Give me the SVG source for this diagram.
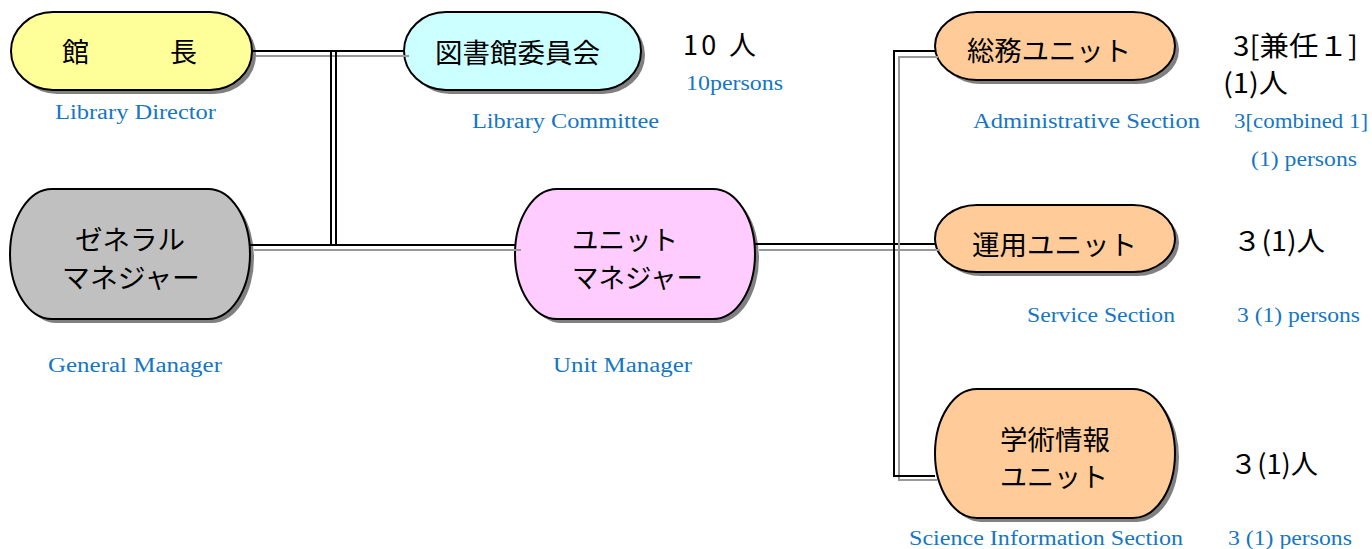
<svg xmlns="http://www.w3.org/2000/svg" width="1372" height="549" viewBox="0 0 1372 549">
<style>
.sh{fill:#808080;stroke:none}
.nd{stroke:#000;stroke-width:2}
.jp{font-family:"Noto Sans CJK JP","Noto Sans",sans-serif;font-size:27px;fill:#000;dominant-baseline:central}
.en{font-family:"Liberation Serif",serif;font-size:20px;fill:#1576C4}
.bk{stroke:#000;stroke-width:2;fill:none}
.gy{stroke:#999;stroke-width:2;fill:none}
</style>
<rect width="1372" height="549" fill="#fff"/>
<g id="node-kancho">
<rect class="sh" x="15" y="16" width="241" height="78" rx="42" ry="39"/>
<rect class="nd" x="11" y="12" width="241" height="78" rx="42" ry="39" fill="#FFFF99"/>
<text class="jp" x="62" y="50">館　　　長</text>
<text class="en" x="55" y="119" textLength="161" lengthAdjust="spacingAndGlyphs">Library Director</text>
</g>
<g id="node-iinkai">
<rect class="sh" x="408" y="16" width="237" height="78" rx="42" ry="39"/>
<rect class="nd" x="404" y="12" width="237" height="78" rx="42" ry="39" fill="#CCFFFF"/>
<text class="jp" x="435" y="51" textLength="165" lengthAdjust="spacingAndGlyphs">図書館委員会</text>
<text class="jp" x="683" y="43" textLength="73" lengthAdjust="spacing">10 人</text>
<text class="en" x="686" y="90" textLength="97" lengthAdjust="spacingAndGlyphs">10persons</text>
<text class="en" x="472" y="128" textLength="187" lengthAdjust="spacingAndGlyphs">Library Committee</text>
</g>
<g id="node-somu">
<rect class="sh" x="939" y="16" width="240" height="68" rx="42" ry="34"/>
<rect class="nd" x="935" y="12" width="240" height="68" rx="42" ry="34" fill="#FFCC99"/>
<text class="jp" x="967" y="49" textLength="164" lengthAdjust="spacingAndGlyphs">総務ユニット</text>
<text class="jp" x="1233" y="44" textLength="125" lengthAdjust="spacingAndGlyphs">3[兼任１]</text>
<text class="jp" x="1223" y="81" textLength="65" lengthAdjust="spacingAndGlyphs">(1)人</text>
<text class="en" x="973" y="128" textLength="227" lengthAdjust="spacingAndGlyphs">Administrative Section</text>
<text class="en" x="1234" y="128" textLength="134" lengthAdjust="spacingAndGlyphs">3[combined 1]</text>
<text class="en" x="1251" y="166" textLength="106" lengthAdjust="spacingAndGlyphs">(1) persons</text>
</g>
<g id="node-general">
<rect class="sh" x="14" y="193" width="240" height="130" rx="42" ry="65"/>
<rect class="nd" x="10" y="189" width="240" height="130" rx="42" ry="65" fill="#C0C0C0"/>
<text class="jp" x="75" y="238" textLength="110" lengthAdjust="spacingAndGlyphs">ゼネラル</text>
<text class="jp" x="62" y="276" textLength="138" lengthAdjust="spacingAndGlyphs">マネジャー</text>
<text class="en" x="48" y="372" textLength="174" lengthAdjust="spacingAndGlyphs">General Manager</text>
</g>
<g id="node-unitmgr">
<rect class="sh" x="519" y="193" width="240" height="130" rx="42" ry="65"/>
<rect class="nd" x="515" y="189" width="240" height="130" rx="42" ry="65" fill="#FFCCFF"/>
<text class="jp" x="572" y="238" textLength="106" lengthAdjust="spacingAndGlyphs">ユニット</text>
<text class="jp" x="572" y="276" textLength="131" lengthAdjust="spacingAndGlyphs">マネジャー</text>
<text class="en" x="553" y="372" textLength="139" lengthAdjust="spacingAndGlyphs">Unit Manager</text>
</g>
<g id="node-unyo">
<rect class="sh" x="939" y="209" width="240" height="67" rx="42" ry="33.5"/>
<rect class="nd" x="935" y="205" width="240" height="67" rx="42" ry="33.5" fill="#FFCC99"/>
<text class="jp" x="972" y="243" textLength="165" lengthAdjust="spacingAndGlyphs">運用ユニット</text>
<text class="jp" x="1233" y="239" textLength="92" lengthAdjust="spacingAndGlyphs">３(1)人</text>
<text class="en" x="1027" y="322" textLength="148" lengthAdjust="spacingAndGlyphs">Service Section</text>
<text class="en" x="1237" y="322" textLength="123" lengthAdjust="spacingAndGlyphs">3 (1) persons</text>
</g>
<g id="node-gakujutsu">
<rect class="sh" x="939" y="393" width="240" height="129" rx="42" ry="64.5"/>
<rect class="nd" x="935" y="389" width="240" height="129" rx="42" ry="64.5" fill="#FFCC99"/>
<text class="jp" x="1000" y="438" textLength="110" lengthAdjust="spacingAndGlyphs">学術情報</text>
<text class="jp" x="1000" y="475" textLength="108" lengthAdjust="spacingAndGlyphs">ユニット</text>
<text class="jp" x="1230" y="462" textLength="88" lengthAdjust="spacingAndGlyphs">３(1)人</text>
<text class="en" x="909" y="545" textLength="274" lengthAdjust="spacingAndGlyphs">Science Information Section</text>
<text class="en" x="1228" y="545" textLength="124" lengthAdjust="spacingAndGlyphs">3 (1) persons</text>
</g>
<g id="connectors">
<line class="gy" x1="256" y1="56" x2="409" y2="56"/>
<line class="bk" x1="252" y1="51" x2="404" y2="51"/>
<line class="bk" x1="331" y1="51" x2="331" y2="245"/>
<line class="bk" x1="336" y1="51" x2="336" y2="245"/>
<line class="gy" x1="254" y1="250" x2="521" y2="250"/>
<line class="bk" x1="250" y1="245" x2="515" y2="245"/>
<line class="gy" x1="759" y1="250" x2="940" y2="250"/>
<line class="bk" x1="755" y1="244" x2="935" y2="244"/>
<polyline class="gy" points="938,57 899,57 899,480 937,480"/>
<polyline class="bk" points="935,51 894,51 894,476 935,476"/>
</g>
</svg>
